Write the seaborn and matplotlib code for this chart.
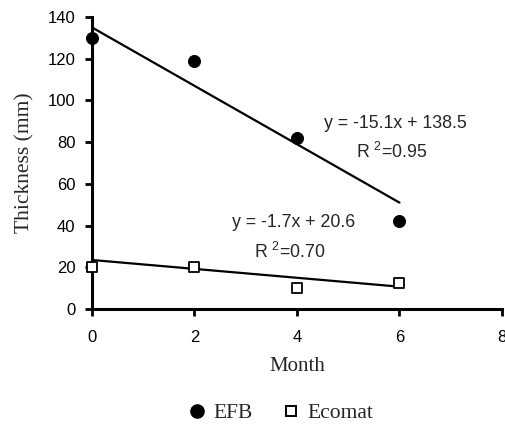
import matplotlib
matplotlib.use("Agg")
import matplotlib.pyplot as plt
import seaborn as sns
import pandas as pd
from matplotlib.lines import Line2D

months = [0, 2, 4, 6]
efb = [130, 119, 82, 42]
ecomat = [20, 20, 10, 12.5]
trend_x = [0, 6]
efb_trend = [135, 51]
ecomat_trend = [23.5, 10.7]
x_ticks = [0, 2, 4, 6, 8]
y_ticks = [0, 20, 40, 60, 80, 100, 120, 140]
efb_eq = "y = -15.1x + 138.5"
efb_r2 = "R $^{2}$=0.95"
eco_eq = "y = -1.7x + 20.6"
eco_r2 = "R $^{2}$=0.70"

sns.set_style("ticks")
plt.rcParams['font.family'] = ['Liberation Sans', 'DejaVu Sans']
plt.rcParams['mathtext.fontset'] = 'custom'
plt.rcParams['mathtext.rm'] = 'Liberation Sans'

fig = plt.figure(figsize=(5.06, 4.28), dpi=100)
ax = fig.add_axes([92/506, 1-309/428, 410/506, 292/428])

pts = pd.DataFrame({"Month": months * 2,
                    "Thickness": efb + ecomat,
                    "Series": ["EFB"] * 4 + ["Ecomat"] * 4})
tr = pd.DataFrame({"Month": trend_x * 2,
                   "Thickness": efb_trend + ecomat_trend,
                   "Series": ["EFB"] * 2 + ["Ecomat"] * 2})

sns.lineplot(data=tr, x="Month", y="Thickness", units="Series", estimator=None,
             color="black", lw=1.6, ax=ax, legend=False)
sns.scatterplot(data=pts[pts.Series == "EFB"], x="Month", y="Thickness",
                marker="o", s=75, color="black", edgecolor="black",
                ax=ax, legend=False, zorder=5, clip_on=False)
sns.scatterplot(data=pts[pts.Series == "Ecomat"], x="Month", y="Thickness",
                marker="s", s=50, facecolor="white", edgecolor="black", linewidth=1.3,
                ax=ax, legend=False, zorder=5, clip_on=False)

ax.set_xlim(0, 8)
ax.set_ylim(0, 140)
ax.set_xticks(x_ticks)
ax.set_yticks(y_ticks)
sns.despine(ax=ax)
for s in ["left", "bottom"]:
    ax.spines[s].set_linewidth(2.2)
    ax.spines[s].set_color("black")
ax.tick_params(axis="both", width=2, length=5, labelsize=12, colors="black")
ax.tick_params(axis="x", pad=10)
ax.tick_params(axis="y", pad=7)

ax.set_xlabel("Month", family="Liberation Serif", fontsize=15, labelpad=9)
ax.set_ylabel("Thickness (mm)", family="Liberation Serif", fontsize=15.5, labelpad=9)

ax.text(4.52, 89, efb_eq, fontsize=12.8, va="center", ha="left")
ax.text(5.15, 75.5, efb_r2, fontsize=12.8, va="center", ha="left")
ax.text(2.74, 41.5, eco_eq, fontsize=12.8, va="center", ha="left")
ax.text(3.17, 27.5, eco_r2, fontsize=12.8, va="center", ha="left")

handles = [Line2D([], [], marker="o", ls="none", color="black", markersize=9.5),
           Line2D([], [], marker="s", ls="none", markerfacecolor="white",
                  markeredgecolor="black", markersize=7, markeredgewidth=1.4)]
fig.legend(handles, ["EFB", "Ecomat"], loc="center", bbox_to_anchor=(280/506, 1-413/428),
           ncol=2, frameon=False, prop={"family": "Liberation Serif", "size": 15.5},
           handletextpad=0.25, columnspacing=1.3, handlelength=1.0)

fig.savefig("out.png", dpi=100)
